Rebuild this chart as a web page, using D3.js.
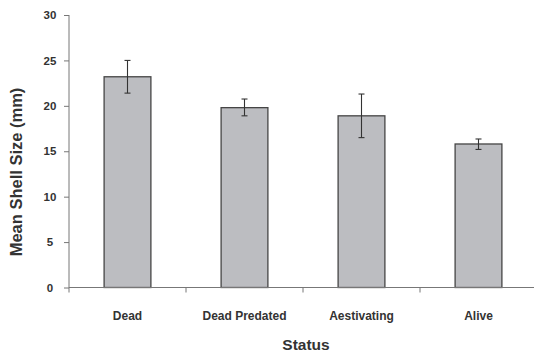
<!DOCTYPE html>
<html><head><meta charset="utf-8">
<script src="https://cdn.jsdelivr.net/npm/d3@7"></script>
<style>body{margin:0;background:#fff}svg{display:block}</style>
</head><body><svg id="c" width="534" height="355"></svg>
<script>
const categories = ["Dead", "Dead Predated", "Aestivating", "Alive"];
const means = [23.2, 19.8, 18.9, 15.8];
const errLow = [21.4, 18.9, 16.5, 15.2];
const errHigh = [25.0, 20.75, 21.3, 16.35];
const yTicks = [0, 5, 10, 15, 20, 25, 30];

const svg = d3.select("#c");
const m = {left: 69, right: -3, top: 15, bottom: 67.5};
const W = 534, H = 355;
const x = d3.scaleBand().domain(categories).range([m.left, W - m.right]).paddingInner(0).paddingOuter(0);
const y = d3.scaleLinear().domain([0, 30]).range([H - m.bottom, m.top]);
const font = "Arial, 'Liberation Sans', sans-serif";
const bw = x.bandwidth() * 0.4;

// bars
svg.selectAll("rect.bar").data(categories).join("rect")
  .attr("x", d => x(d) + x.bandwidth()/2 - bw/2)
  .attr("y", (d,i) => y(means[i]))
  .attr("width", bw)
  .attr("height", (d,i) => y(0) - y(means[i]))
  .attr("fill", "#bcbdc1").attr("stroke", "#454545").attr("stroke-width", 1.3);

// error bars
const eg = svg.append("g").attr("stroke", "#333").attr("stroke-width", 1.1);
categories.forEach((c, i) => {
  const cx = x(c) + x.bandwidth()/2;
  eg.append("line").attr("x1", cx).attr("x2", cx).attr("y1", y(errLow[i])).attr("y2", y(errHigh[i]));
  [errLow[i], errHigh[i]].forEach(v => eg.append("line").attr("x1", cx-3).attr("x2", cx+3).attr("y1", y(v)).attr("y2", y(v)));
});

// y axis
const ya = svg.append("g").attr("transform", `translate(${m.left},0)`)
  .call(d3.axisLeft(y).tickValues(yTicks).tickSize(5));
ya.select(".domain").attr("stroke", "#777").attr("d", `M0,${y(30)}V${y(0)+5}`);
ya.selectAll(".tick line").attr("stroke", "#777");
ya.selectAll("text").attr("font-family", font).attr("font-size", 11.5).attr("font-weight", "bold").attr("fill", "#333").attr("text-anchor","middle").attr("x", -19);

// x axis
const xa = svg.append("g").attr("transform", `translate(0,${y(0)})`);
xa.append("line").attr("x1", m.left).attr("x2", W).attr("stroke", "#777");
categories.slice(1).forEach(c => xa.append("line").attr("x1", x(c)).attr("x2", x(c)).attr("y1", 0).attr("y2", 5).attr("stroke", "#777"));
xa.selectAll("text.cat").data(categories).join("text").attr("class","cat")
  .attr("x", d => x(d) + x.bandwidth()/2).attr("y", 32)
  .attr("text-anchor", "middle").attr("font-family", font).attr("font-size", 12).attr("font-weight", "bold").attr("fill", "#333")
  .text(d => d);

// titles
svg.append("text").attr("x", 306).attr("y", 350).attr("text-anchor", "middle")
  .attr("font-family", font).attr("font-size", 15.5).attr("font-weight", "bold").attr("fill", "#333").text("Status");
svg.append("text").attr("transform", "translate(22,172) rotate(-90)").attr("text-anchor", "middle")
  .attr("font-family", font).attr("font-size", 16.5).attr("font-weight", "bold").attr("fill", "#333").text("Mean Shell Size (mm)");
</script></body></html>
